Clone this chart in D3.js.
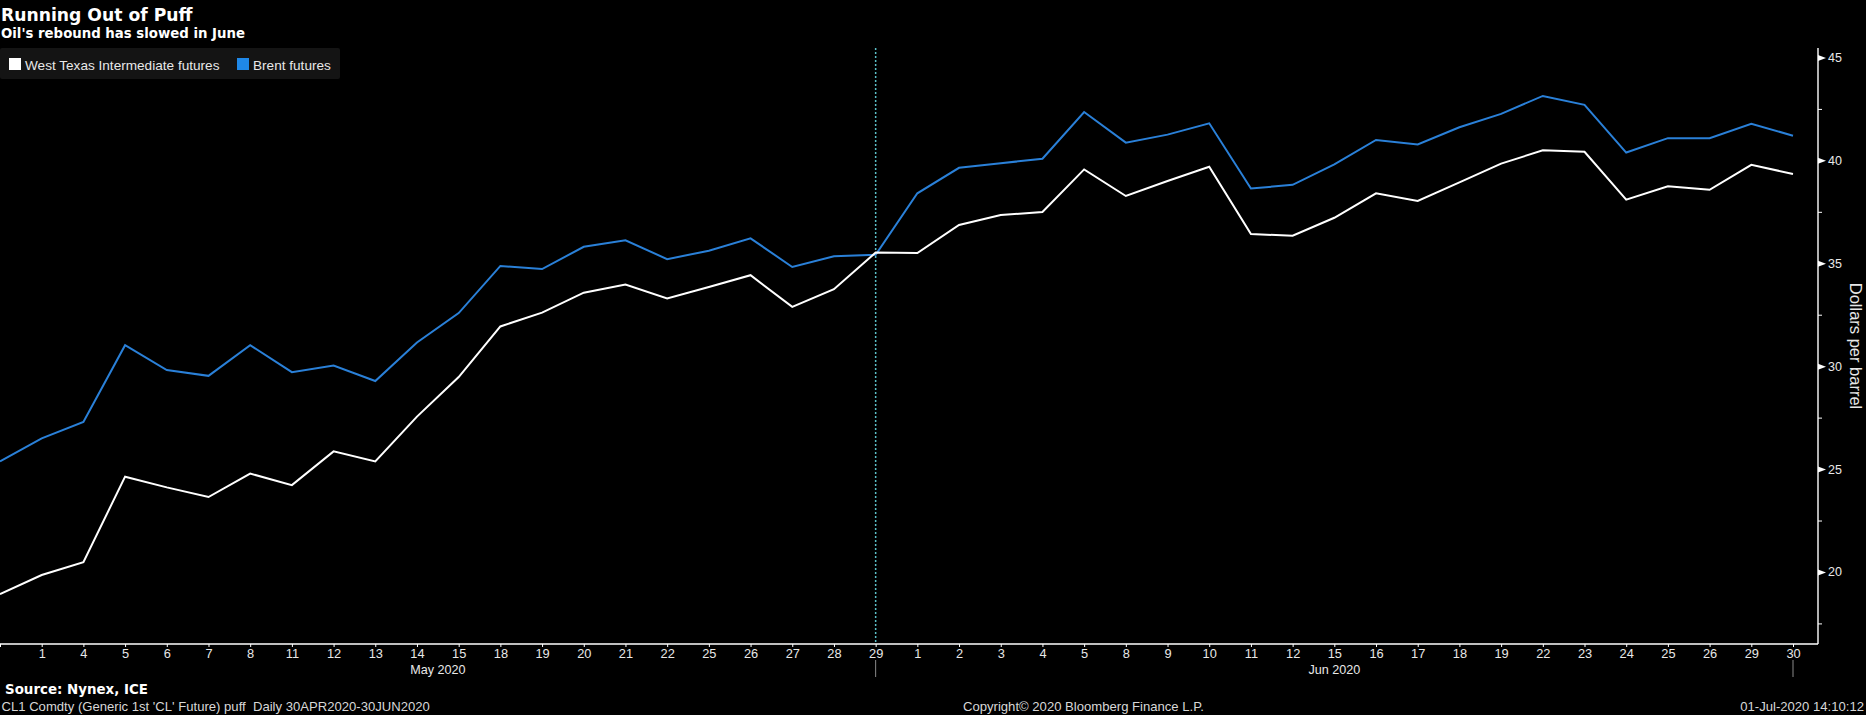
<!DOCTYPE html>
<html>
<head>
<meta charset="utf-8">
<script src="https://cdn.jsdelivr.net/npm/d3@7"></script>
<style>
  html, body { margin: 0; padding: 0; background: #000; }
  svg { display: block; }
</style>
</head>
<body>
<svg id="chart" width="1866" height="715"></svg>
<script>
// ---------- data ----------
const dates = [
  "2020-04-30",
  "2020-05-01","2020-05-04","2020-05-05","2020-05-06","2020-05-07","2020-05-08",
  "2020-05-11","2020-05-12","2020-05-13","2020-05-14","2020-05-15",
  "2020-05-18","2020-05-19","2020-05-20","2020-05-21","2020-05-22",
  "2020-05-25","2020-05-26","2020-05-27","2020-05-28","2020-05-29",
  "2020-06-01","2020-06-02","2020-06-03","2020-06-04","2020-06-05",
  "2020-06-08","2020-06-09","2020-06-10","2020-06-11","2020-06-12",
  "2020-06-15","2020-06-16","2020-06-17","2020-06-18","2020-06-19",
  "2020-06-22","2020-06-23","2020-06-24","2020-06-25","2020-06-26",
  "2020-06-29","2020-06-30"
];
const tickLabels = [
  "",
  "1","4","5","6","7","8","11","12","13","14","15","18","19","20","21","22","25","26","27","28","29",
  "1","2","3","4","5","8","9","10","11","12","15","16","17","18","19","22","23","24","25","26","29","30"
];
const brent = [
  25.37, 26.49, 27.29, 31.02, 29.81, 29.53, 31.02, 29.71, 30.03, 29.28,
  31.15, 32.58, 34.87, 34.72, 35.80, 36.12, 35.20, 35.61, 36.21, 34.82,
  35.34, 35.41, 38.40, 39.64, 39.86, 40.08, 42.35, 40.86, 41.25, 41.80,
  38.63, 38.81, 39.80, 40.99, 40.77, 41.61, 42.26, 43.13, 42.70, 40.38,
  41.08, 41.08, 41.78, 41.20
];
const wti = [
  18.92, 19.85, 20.48, 24.63, 24.11, 23.64, 24.78, 24.22, 25.86, 25.37,
  27.55, 29.47, 31.93, 32.60, 33.57, 33.97, 33.29, 33.85, 34.42, 32.88,
  33.74, 35.52, 35.50, 36.86, 37.34, 37.49, 39.56, 38.27, 39.00, 39.69,
  36.42, 36.34, 37.21, 38.40, 38.03, 38.93, 39.84, 40.49, 40.42, 38.09,
  38.74, 38.57, 39.78, 39.34
];
const seriesNames = ["West Texas Intermediate futures", "Brent futures"];
const yTicks = [20, 25, 30, 35, 40, 45];
const yMinorTicks = [17.5, 22.5, 27.5, 32.5, 37.5, 42.5];
const months = [
  { label: "May 2020", from: "2020-04-30", to: "2020-05-29" },
  { label: "Jun 2020", from: "2020-05-29", to: "2020-06-30" }
];
const markerDate = "2020-05-29";

// ---------- layout ----------
const W = 1866, H = 715;
const plot = { left: 0, right: 1793, axisX: 1818, top: 48, bottom: 644 };
const BLUE = "#2a80d8";
const BLUE_KEY = "#1f88e8";
const SANS = "Liberation Sans, Arial, sans-serif";
const WIDE = "DejaVu Sans, Verdana, sans-serif";

const svg = d3.select("#chart");
svg.append("rect").attr("width", W).attr("height", H).attr("fill", "#000");

const x = d3.scalePoint().domain(dates).range([plot.left, plot.right]);
const y = d3.scaleLinear().domain([16.5, 45.46]).range([plot.bottom, plot.top]);

// ---------- titles ----------
svg.append("text").attr("x", 1).attr("y", 20.5)
  .attr("fill", "#fff").attr("font-family", WIDE)
  .attr("font-weight", "bold").attr("font-size", 17.2)
  .text("Running Out of Puff");
svg.append("text").attr("x", 1).attr("y", 37.5)
  .attr("fill", "#fff").attr("font-family", WIDE)
  .attr("font-weight", "bold").attr("font-size", 13.3)
  .text("Oil's rebound has slowed in June");

// ---------- legend ----------
const legend = svg.append("g");
legend.append("rect").attr("x", 0).attr("y", 48).attr("width", 340).attr("height", 31)
  .attr("rx", 2).attr("fill", "#141414");
const legItems = [
  { name: seriesNames[0], color: "#ffffff", sx: 9, tx: 25 },
  { name: seriesNames[1], color: BLUE_KEY, sx: 237, tx: 253 }
];
legItems.forEach(d => {
  legend.append("rect").attr("x", d.sx).attr("y", 58).attr("width", 12).attr("height", 12)
    .attr("fill", d.color);
  legend.append("text").attr("x", d.tx).attr("y", 69.5)
    .attr("fill", "#e8e8e8").attr("font-family", SANS)
    .attr("font-size", 13.6).text(d.name);
});

// ---------- marker line ----------
svg.append("line")
  .attr("x1", x(markerDate)).attr("x2", x(markerDate))
  .attr("y1", plot.top).attr("y2", plot.bottom)
  .attr("stroke", "#5cc0c8").attr("stroke-width", 1.5).attr("stroke-dasharray", "2,2");

// ---------- lines ----------
const line = d3.line().x((d, i) => x(dates[i])).y(d => y(d));
svg.append("path").datum(brent).attr("d", line)
  .attr("fill", "none").attr("stroke", BLUE).attr("stroke-width", 2).attr("stroke-linejoin", "miter");
svg.append("path").datum(wti).attr("d", line)
  .attr("fill", "none").attr("stroke", "#ffffff").attr("stroke-width", 2).attr("stroke-linejoin", "miter");

// ---------- x axis ----------
const xAxis = d3.axisBottom(x)
  .tickValues(dates)
  .tickFormat((d, i) => tickLabels[i])
  .tickSize(3).tickPadding(2);
const gx = svg.append("g").attr("transform", `translate(0,${plot.bottom})`).call(xAxis);
gx.select(".domain").remove();
gx.append("line").attr("x1", 0).attr("x2", plot.axisX).attr("y1", 0).attr("y2", 0)
  .attr("stroke", "#fff").attr("stroke-width", 1.4);
gx.selectAll(".tick line").attr("stroke", "#fff");
gx.selectAll(".tick text").attr("fill", "#e8e8e8")
  .attr("font-family", SANS).attr("font-size", 12.8);

// month labels + separators
months.forEach(m => {
  const cx = (x(m.from) + x(m.to)) / 2;
  svg.append("text").attr("x", cx).attr("y", 674).attr("text-anchor", "middle")
    .attr("fill", "#e8e8e8").attr("font-family", SANS)
    .attr("font-size", 12.6).text(m.label);
  svg.append("line").attr("x1", x(m.to)).attr("x2", x(m.to)).attr("y1", 660).attr("y2", 677)
    .attr("stroke", "#8a8a8a").attr("stroke-width", 1);
});

// ---------- y axis ----------
const gyMinor = svg.append("g").attr("transform", `translate(${plot.axisX},0)`)
  .call(d3.axisRight(y).tickValues(yMinorTicks).tickSize(4).tickFormat(""));
gyMinor.select(".domain").remove();
gyMinor.selectAll(".tick line").attr("stroke", "#fff");

const gy = svg.append("g").attr("transform", `translate(${plot.axisX},0)`)
  .call(d3.axisRight(y).tickValues(yTicks).tickSize(0).tickPadding(10));
gy.select(".domain").remove();
gy.selectAll(".tick").append("path").attr("d", "M0,-3L8,0L0,3Z").attr("fill", "#fff");
gy.selectAll(".tick text").attr("fill", "#e8e8e8")
  .attr("font-family", SANS).attr("font-size", 12.5);
svg.append("line").attr("x1", plot.axisX).attr("x2", plot.axisX)
  .attr("y1", plot.top).attr("y2", plot.bottom).attr("stroke", "#fff").attr("stroke-width", 1.4);

svg.append("text")
  .attr("transform", `translate(1849.5,${(plot.top + plot.bottom) / 2}) rotate(90)`)
  .attr("text-anchor", "middle")
  .attr("fill", "#e8e8e8").attr("font-family", SANS)
  .attr("font-size", 16.5).text("Dollars per barrel");

// ---------- footer ----------
svg.append("text").attr("x", 5).attr("y", 693.5)
  .attr("fill", "#fff").attr("font-family", WIDE)
  .attr("font-weight", "bold").attr("font-size", 13.4).text("Source: Nynex, ICE");
const foot = { fill: "#d8d8d8", family: SANS, size: 13.1 };
svg.append("text").attr("x", 1.5).attr("y", 711)
  .attr("fill", foot.fill).attr("font-family", foot.family).attr("font-size", foot.size)
  .attr("xml:space", "preserve")
  .text("CL1 Comdty (Generic 1st 'CL' Future) puff  Daily 30APR2020-30JUN2020");
svg.append("text").attr("x", 963).attr("y", 711)
  .attr("fill", foot.fill).attr("font-family", foot.family).attr("font-size", foot.size)
  .text("Copyright\u00A9 2020 Bloomberg Finance L.P.");
svg.append("text").attr("x", 1864).attr("y", 711).attr("text-anchor", "end")
  .attr("fill", foot.fill).attr("font-family", foot.family).attr("font-size", foot.size)
  .text("01-Jul-2020 14:10:12");
</script>
</body>
</html>
